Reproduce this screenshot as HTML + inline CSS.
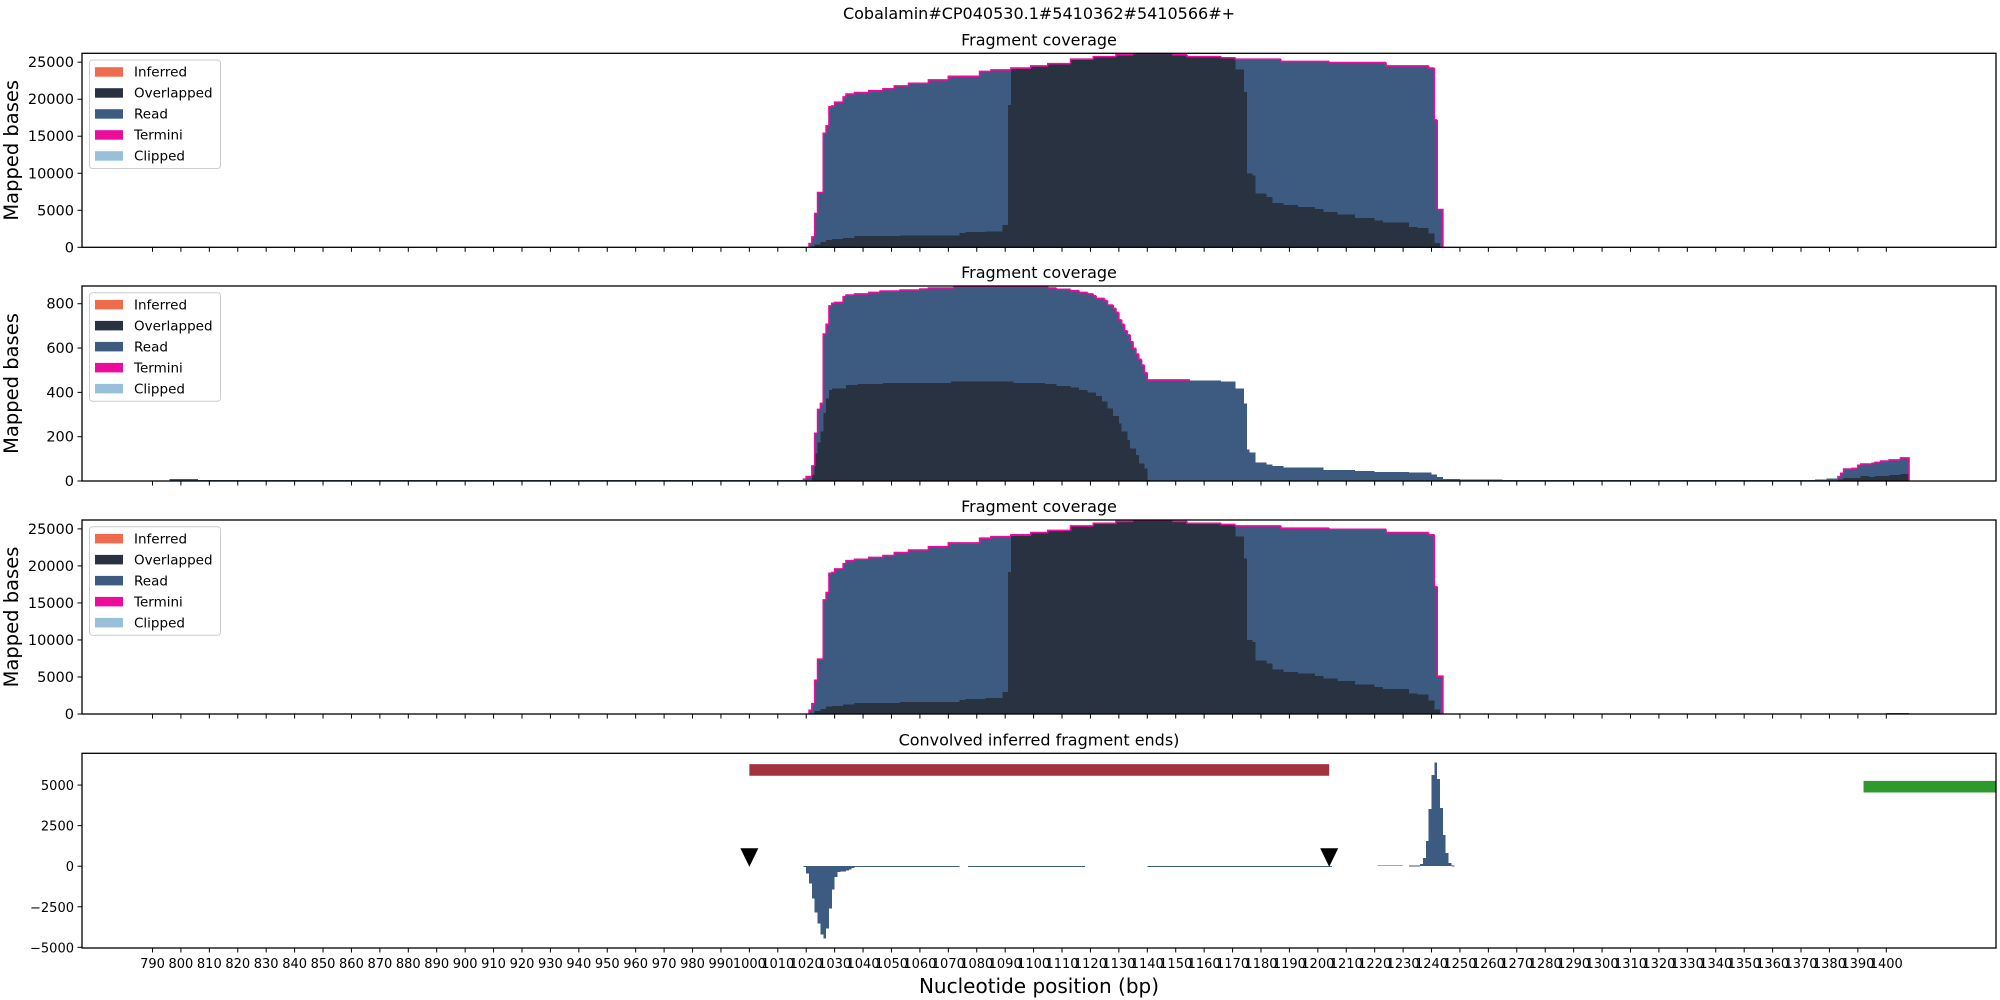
<!DOCTYPE html>
<html><head><meta charset="utf-8"><style>
body{margin:0;background:#fff}
svg{display:block;font-family:"DejaVu Sans","Liberation Sans",sans-serif}
</style></head><body>
<svg id="chart" width="2000" height="1000" viewBox="0 0 2000 1000" xmlns="http://www.w3.org/2000/svg">
<rect x="0" y="0" width="2000" height="1000" fill="#fff"/>
<text x="1039" y="19" font-size="16" text-anchor="middle">Cobalamin#CP040530.1#5410362#5410566#+</text>
<text x="1039" y="993" font-size="20" text-anchor="middle">Nucleotide position (bp)</text>
</svg>
<script>
// ---------- data ----------
const xTicks = [790,800,810,820,830,840,850,860,870,880,890,900,910,920,930,940,950,960,970,980,990,1000,1010,1020,1030,1040,1050,1060,1070,1080,1090,1100,1110,1120,1130,1140,1150,1160,1170,1180,1190,1200,1210,1220,1230,1240,1250,1260,1270,1280,1290,1300,1310,1320,1330,1340,1350,1360,1370,1380,1390,1400];
const covTicks = [0,5000,10000,15000,20000,25000];
const p2Ticks = [0,200,400,600,800];
const convTicks = [-5000,-2500,0,2500,5000];
const legendLabels = ["Inferred","Overlapped","Read","Termini","Clipped"];

// panel 1 (segment starts in bp, values, end bp)
const p1ReadStart = [1021,1022,1023,1024,1026,1027,1028,1029,1030,1033,1034,1037,1042,1047,1051,1056,1063,1070,1081,1085,1092,1099,1105,1113,1121,1129,1135,1149,1154,1166,1171,1187,1204,1224,1239,1241,1242];
const p1ReadVal   = [500,1400,4550,7400,15400,16400,19000,19100,19600,20300,20700,20900,21150,21400,21800,22150,22600,23100,23750,23950,24200,24500,24800,25400,25750,26000,26200,26000,25750,25600,25400,25100,24950,24500,24200,17200,5100];
const p1ReadEnd = 1244;
const p1OverStart = [1022,1023,1025,1027,1029,1033,1037,1053,1074,1076,1083,1089,1091,1092,1099,1105,1113,1121,1129,1135,1149,1154,1166,1171,1174,1175,1177,1178,1182,1184,1188,1193,1199,1202,1207,1213,1220,1223,1232,1235,1239,1241];
const p1OverVal   = [100,400,700,1000,1100,1250,1500,1600,1900,2050,2150,3000,19200,24050,24500,24800,25400,25750,26000,26200,26000,25750,25600,24000,21000,10000,9700,7250,6800,6000,5700,5450,5150,4800,4450,3970,3650,3350,2750,2600,1850,600];
const p1OverEnd = 1243;

// panel 2
const p2ReadStart = [796,806,1019,1020,1021,1022,1023,1024,1025,1026,1027,1028,1029,1030,1033,1034,1037,1042,1046,1053,1060,1063,1072,1105,1108,1113,1116,1119,1121,1122,1125,1126,1128,1129,1130,1131,1132,1133,1134,1135,1136,1137,1138,1139,1140,1155,1166,1171,1174,1175,1176,1178,1182,1184,1188,1202,1213,1220,1232,1240,1242,1244,1250,1265,1375,1379,1383,1384,1385,1388,1390,1391,1395,1396,1398,1401,1405];
const p2ReadVal   = [8,5,8,20,20,68,215,323,350,663,707,790,802,806,832,839,844,851,857,862,866,871,877,871,865,859,851,844,836,824,814,794,779,761,727,707,678,659,629,599,573,549,523,489,456,453,448,418,350,143,129,83,75,68,60,50,45,41,38,29,17,9,6,4,7.5,12,19.5,34.6,54,57,70.7,76.7,80,84,90,95,104];
const p2ReadEnd = 1408;
const p2OverStart = [1022,1023,1024,1025,1026,1027,1028,1029,1034,1038,1047,1071,1093,1104,1108,1113,1116,1119,1122,1124,1126,1128,1130,1131,1133,1134,1136,1137,1139,1140,1141,1245,1383,1385,1391,1394,1396,1401,1405];
const p2OverVal   = [27,125,173,223,308,373,411,418,433,438,442,448,442,438,429,421,411,399,384,358,328,293,260,223,185,147,117,80,57,4,3,0,7.5,13.5,22.6,18,22.6,27,31.6];
const p2OverEnd = 1408;
const p2TerminiEnd = 1142;
const p2TerminiStart2 = 1383;

// panel 3 (same coverage plus small tail near 1400)
const p3TailStart = [1244,1395,1400];
const p3TailVal = [0,80,150];
const p3TailEnd = 1408;

// panel 4 (convolved ends)
const p4Start = [1019,1020,1021,1022,1023,1024,1025,1026,1027,1028,1029,1030,1031,1032,1034,1035,1036,1037,1039,1074,1077,1118,1140,1205,1221,1230,1232,1236,1237,1238,1239,1240,1241,1242,1243,1244,1245,1246,1247];
const p4Val   = [-62,-453,-1070,-1996,-2860,-3519,-4218,-4465,-3848,-2613,-1420,-679,-370,-330,-267,-206,-123,-60,-60,0,-60,0,-60,0,50,0,30,123,494,1564,3519,5617,6379,5370,3580,1934,802,206,40];
const p4End = 1248;
const redBar = [1000,1204,5930];
const greenBar = [1392,1460,4900];
const markers = [1000,1204];

// ---------- drawing ----------
const NS="http://www.w3.org/2000/svg";
const svg=document.getElementById('chart');
const XL=82, XR=1996, BP0=765.2, BP1=1438.6;
const C={read:"#3d5a80",over:"#293241",inf:"#ee6c4d",term:"#ec0b9b",clip:"#98c1d9"};
function X(bp){return XL+(bp-BP0)/(BP1-BP0)*(XR-XL);}
function mk(tag,attrs,parent){const e=document.createElementNS(NS,tag);for(const k in attrs)e.setAttribute(k,attrs[k]);(parent||svg).appendChild(e);return e;}

const panels=[
 {top:53.3,bottom:247.3,ymin:0,ymax:26200,ticks:covTicks,title:"Fragment coverage",name:"panel-1"},
 {top:286,bottom:481,ymin:0,ymax:880,ticks:p2Ticks,title:"Fragment coverage",name:"panel-2"},
 {top:520,bottom:714,ymin:0,ymax:26200,ticks:covTicks,title:"Fragment coverage",name:"panel-3"},
 {top:753.3,bottom:948,ymin:-5040,ymax:6957,ticks:convTicks,title:"Convolved inferred fragment ends)",name:"panel-4"}
];
function Yf(p){return v=>p.bottom-(v-p.ymin)/(p.ymax-p.ymin)*(p.bottom-p.top);}

function stepArea(g,starts,vals,end,Y,fill,name){
  let d="";
  for(let i=0;i<starts.length;i++){
    const s=starts[i], e=(i+1<starts.length)?starts[i+1]:end;
    if(vals[i]===0)continue;
    d+="M"+X(s)+","+Y(0)+"H"+X(e)+"V"+Y(vals[i])+"H"+X(s)+"Z";
  }
  const el=mk('path',{d:d,fill:fill,'shape-rendering':'crispEdges'},g);
  
  
}
function outline(g,starts,vals,end,Y,from,to,name){
  let d="",prev=0;
  for(let i=0;i<starts.length;i++){
    const s=starts[i], e=(i+1<starts.length)?starts[i+1]:end;
    if(s<from||s>=to){prev=vals[i];continue;}
    d+="M"+X(s)+","+Y(prev)+"V"+Y(vals[i])+"H"+X(e);
    prev=vals[i];
    if(i+1===starts.length) d+="V"+Y(0);
  }
  const el=mk('path',{d:d,fill:'none',stroke:C.term,'stroke-width':1.6},g);
  
  
}

panels.forEach((p,pi)=>{
  const Y=Yf(p);
  const g=mk('g',{});
  
  
  const clipId='clip'+pi;
  const cp=mk('clipPath',{id:clipId},g);
  mk('rect',{x:XL,y:p.top,width:XR-XL,height:p.bottom-p.top},cp);
  const dg=mk('g',{'clip-path':'url(#'+clipId+')'},g);
  if(pi===0||pi===2){
    stepArea(dg,p1ReadStart,p1ReadVal,p1ReadEnd,Y,C.read,'read-area');
    stepArea(dg,p1OverStart,p1OverVal,p1OverEnd,Y,C.over,'overlapped-area');
    outline(dg,p1ReadStart,p1ReadVal,p1ReadEnd,Y,0,9999,'termini-outline');
    if(pi===2){
      stepArea(dg,p3TailStart,p3TailVal,p3TailEnd,Y,C.read,'read-tail');
    }
  } else if(pi===1){
    stepArea(dg,p2ReadStart,p2ReadVal,p2ReadEnd,Y,C.read,'read-area');
    stepArea(dg,p2OverStart,p2OverVal,p2OverEnd,Y,C.over,'overlapped-area');
    outline(dg,p2ReadStart,p2ReadVal,p2ReadEnd,Y,1019,p2TerminiEnd,'termini-outline');
    outline(dg,p2ReadStart,p2ReadVal,p2ReadEnd,Y,p2TerminiStart2,9999,'termini-outline-tail');
  } else {
    for(let i=0;i<p4Start.length;i++){
      const s=p4Start[i], e=(i+1<p4Start.length)?p4Start[i+1]:p4End, v=p4Val[i];
      if(v===0)continue;
      const r=mk('rect',{x:X(s),y:Math.min(Y(v),Y(0)),width:X(e)-X(s),height:Math.max(Math.abs(Y(v)-Y(0)),0.8),fill:C.read,'shape-rendering':'crispEdges'},dg);
      
      
    }
    const rb=mk('rect',{x:X(redBar[0]),y:Y(redBar[2])-5.8,width:X(redBar[1])-X(redBar[0]),height:11.6,fill:"#a3333f"},dg);
    
    
    const gb=mk('rect',{x:X(greenBar[0]),y:Y(greenBar[2])-5.8,width:X(greenBar[1])-X(greenBar[0]),height:11.6,fill:"#2e9a2e"},dg);
    
    
    markers.forEach(m=>{
      const cx=X(m), y0=Y(0);
      const t=mk('polygon',{points:(cx-9)+","+(y0-18)+" "+(cx+9)+","+(y0-18)+" "+cx+","+(y0+0.5),fill:"#000"},g);
      
      
    });
  }
  const fr=mk('rect',{x:XL,y:p.top,width:XR-XL,height:p.bottom-p.top,fill:'none',stroke:'#000','stroke-width':1.3},g);
  
  
  const tt=mk('text',{x:(XL+XR)/2,y:p.top-8,'font-size':16,'text-anchor':'middle'},g);
  tt.textContent=p.title;
  
  
  p.ticks.forEach(v=>{
    const y=Y(v);
    mk('line',{x1:XL-4.5,x2:XL,y1:y,y2:y,stroke:'#000','stroke-width':1},g);
    const t=mk('text',{x:XL-8,y:y+5,'font-size':pi===3?13:14.5,'text-anchor':'end'},g);
    t.textContent=(v<0?"\u2212"+(-v):String(v));
    
    
  });
  xTicks.forEach(v=>{
    const x=X(v);
    mk('line',{x1:x,x2:x,y1:p.bottom,y2:p.bottom+4.5,stroke:'#000','stroke-width':1},g);
    if(pi===3){
      const t=mk('text',{x:x,y:p.bottom+20,'font-size':13,'text-anchor':'middle'},g);
      t.textContent=String(v);
      
      
    }
  });
  if(pi<3){
    const yl=mk('text',{x:0,y:0,'font-size':19.5,'text-anchor':'middle',transform:'translate(18,'+((p.top+p.bottom)/2)+') rotate(-90)'},g);
    yl.textContent="Mapped bases";
    
    
    const lg=mk('g',{},g);
    
    
    const off=p.top-53.3;
    mk('rect',{x:89.5,y:60+off,width:131,height:108.5,rx:3,fill:'#fff','fill-opacity':0.8,stroke:'#ccc','stroke-width':1},lg);
    const cols=[C.inf,C.over,C.read,C.term,C.clip];
    legendLabels.forEach((lab,i)=>{
      const cy=71.7+off+i*21;
      const e=mk('g',{},lg);
      
      
      mk('rect',{x:95,y:cy-4.5,width:28,height:9.5,fill:cols[i]},e);
      const t=mk('text',{x:134,y:cy+5,'font-size':13.5},e);
      t.textContent=lab;
    });
  }
});
</script>
</body></html>
